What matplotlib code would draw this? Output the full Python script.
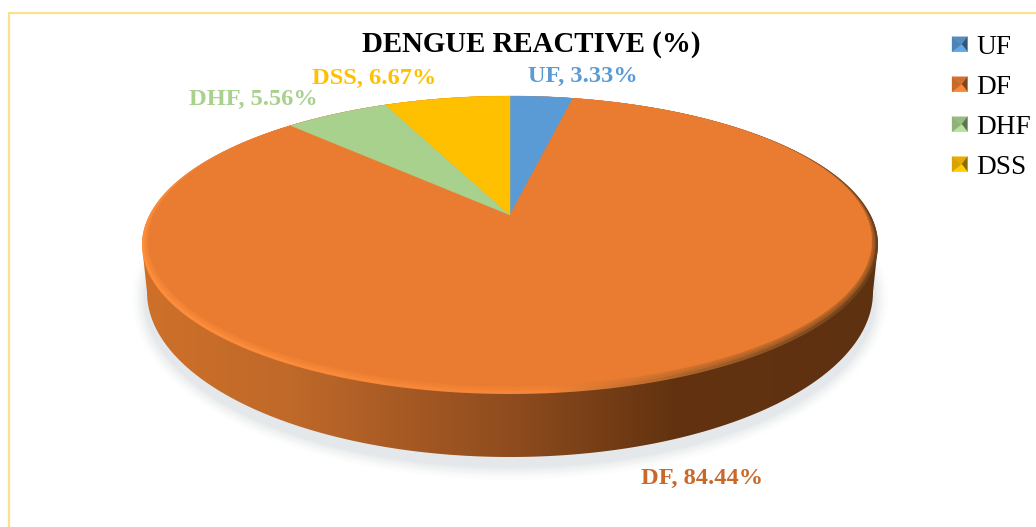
import numpy as np
import matplotlib
matplotlib.use("Agg")
import matplotlib.pyplot as plt
from matplotlib.patches import Polygon, Patch
from matplotlib.legend_handler import HandlerBase
from matplotlib.colors import LinearSegmentedColormap

title = "DENGUE REACTIVE (%)"
categories = ["UF", "DF", "DHF", "DSS"]
values = [3.33, 84.44, 5.56, 6.67]
colors = ["#5B9BD5", "#E97C30", "#A9D18E", "#FFC000"]
label_colors = ["#5B9BD5", "#C8692A", "#A9D18E", "#FFC000"]
label_pos = [(583, 76), (702, 478), (253, 99), (374, 78)]

plt.rcParams["font.family"] = ["Liberation Serif", "DejaVu Serif"]
fig = plt.figure(figsize=(10.36, 5.27), dpi=100, facecolor="white")
ax = fig.add_axes([0, 0, 1, 1])
ax.set_xlim(0, 1036)
ax.set_ylim(527, 0)
ax.axis("off")

CX, APEX_Y = 510, 215


def face_points(theta, sx, sy, p):
    """Perspective circle: angles are clockwise from 12 o'clock."""
    x, y = np.sin(theta), np.cos(theta)
    d = 1 + p * y
    return CX + sx * x / d, APEX_Y - sy * y / d


def ellipse(cx, cy, rx, ry, n=400, t0=0, t1=2 * np.pi):
    t = np.linspace(t0, t1, n)
    return np.column_stack([cx + rx * np.cos(t), cy + ry * np.sin(t)])


# frame
ax.plot([1036, 9, 9], [13, 13, 527], color="#FBE08E", lw=1.6, zorder=1)

# soft ground shadow
for grow, a in zip(np.arange(14, 0, -2), [0.02, 0.025, 0.03, 0.035, 0.04, 0.05, 0.06]):
    ax.add_patch(Polygon(ellipse(CX, 299, 364 + grow, 167 + grow), closed=True,
                         fc="#A0A8B0", ec="none", alpha=a, zorder=2))

# side wall with a left-to-right shading
side_cmap = LinearSegmentedColormap.from_list(
    "side", [(0, "#CE7029"), (0.2, "#C0692A"), (0.5, "#8F4C1E"), (0.72, "#633310"), (1, "#5E3110")])
grad = np.linspace(0, 1, 512).reshape(1, -1)
lower_bot = ellipse(CX, 292, 363, 165, t0=0, t1=np.pi)
sil = np.vstack([ellipse(CX, 245, 368, 149, t0=np.pi, t1=2 * np.pi), lower_bot])
im = ax.imshow(grad, extent=(142, 878, 527, 0), cmap=side_cmap, aspect="auto", zorder=3)
clip = Polygon(sil, closed=True, transform=ax.transData, fc="none", ec="none")
ax.add_patch(clip)
im.set_clip_path(clip)

# bevelled rim
rim_cmap = LinearSegmentedColormap.from_list(
    "rim", [(0, "#FF8E3C"), (0.55, "#F58538"), (0.75, "#A8622A"), (1, "#6A3F1A")])
im2 = ax.imshow(grad, extent=(142, 878, 527, 0), cmap=rim_cmap, aspect="auto", zorder=4)
clip2 = Polygon(ellipse(CX, 245, 368, 149), closed=True, transform=ax.transData, fc="none", ec="none")
ax.add_patch(clip2)
im2.set_clip_path(clip2)
ax.set_xlim(0, 1036)
ax.set_ylim(527, 0)

# soft transition from rim to top face
for f in [0.6, 0.3]:
    ax.add_patch(Polygon(ellipse(CX, 245 - 4 * (1 - f), 368 - 6 * (1 - f), 149 - 4 * (1 - f)),
                         closed=True, fc=colors[1], ec="none", alpha=0.35, zorder=5))

# top face wedges
edges = np.cumsum([0] + values) / 100 * 2 * np.pi
for i, c in enumerate(colors):
    th = np.linspace(edges[i], edges[i + 1], 300)
    xs, ys = face_points(th, 356, 140.3, 0.179)
    ax.add_patch(Polygon(np.column_stack([np.r_[CX, xs], np.r_[APEX_Y, ys]]), closed=True,
                         fc=c, ec=c, lw=0.3, zorder=6))

# data labels
for cat, v, c, (lx, ly) in zip(categories, values, label_colors, label_pos):
    ax.text(lx, ly, f"{cat}, {v:.2f}%", color=c, ha="center", va="center",
            fontsize=17.6, fontweight="bold", zorder=8)

ax.text(531, 44, title, ha="center", va="center", fontsize=20.8, fontweight="bold",
        color="black", zorder=8)


class BevelHandler(HandlerBase):
    def create_artists(self, legend, orig, xd, yd, w, h, fontsize, trans):
        base = np.array(matplotlib.colors.to_rgb(orig.get_facecolor()))
        x0, y0 = -xd, -yd
        x1, y1 = x0 + w, y0 + h
        mx, my = x0 + w * 0.62, y0 + h / 2
        corners = [(x0, y1), (x1, y1), (x1, y0), (x0, y0)]
        shades = [base * 0.9, base * 0.55, np.minimum(base * 1.08, 1), base * 0.85]
        out = []
        for k, s in enumerate(shades):
            out.append(Polygon([corners[k], corners[(k + 1) % 4], (mx, my)], closed=True,
                               fc=s, ec=s, lw=0.2, transform=trans))
        return out


handles = [Patch(facecolor=c, label=n) for n, c in zip(categories, colors)]
leg = ax.legend(handles=handles, labels=categories, loc="upper left",
                bbox_to_anchor=(952 / 1036, 1 - 35 / 527), bbox_transform=fig.transFigure,
                frameon=False, fontsize=19.6, handlelength=0.57, handleheight=0.48,
                handletextpad=0.33, labelspacing=0.55, borderpad=0, borderaxespad=0,
                handler_map={Patch: BevelHandler()})
leg.set_zorder(9)

fig.savefig("out.png", dpi=100)
